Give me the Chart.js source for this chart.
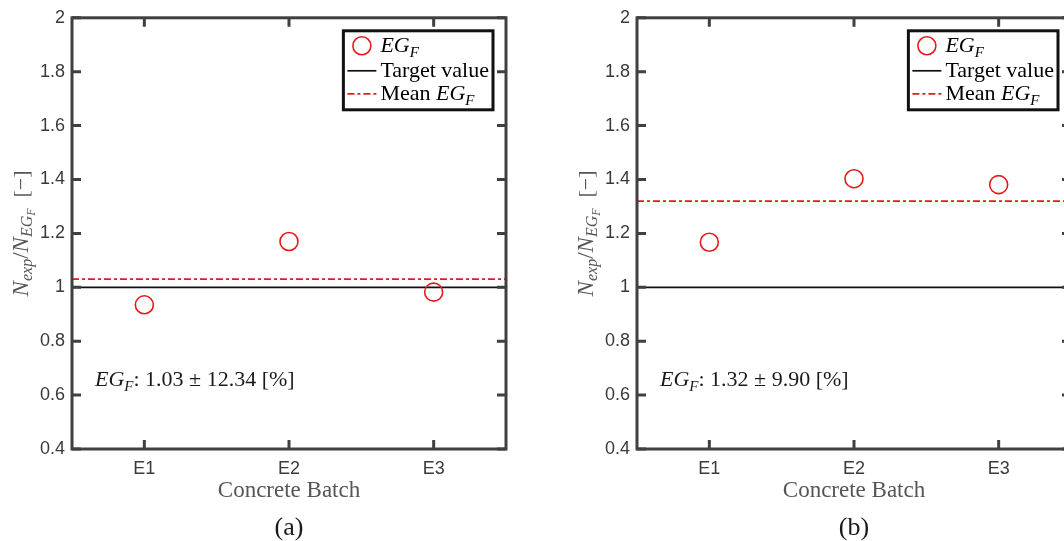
<!DOCTYPE html>
<html><head><meta charset="utf-8">
<script src="https://cdn.jsdelivr.net/npm/chart.js@4/dist/chart.umd.min.js"></script>
<style>
html,body{margin:0;padding:0;background:#fff;overflow:hidden;width:1064px;height:541px;}
#wrap{position:relative;width:1064px;height:541px;overflow:hidden;background:#fff;}
.pane{position:absolute;top:0;width:532px;height:541px;}
#p1{left:0} #p2{left:565px}
</style></head><body>
<div id="wrap">
  <div class="pane" id="p1"><canvas id="c1" width="532" height="541"></canvas></div>
  <div class="pane" id="p2"><canvas id="c2" width="532" height="541"></canvas></div>
</div>
<script>
// ---- data ----
const categories = ['E1', 'E2', 'E3'];
const ratioA = [0.935, 1.17, 0.982];
const ratioB = [1.167, 1.403, 1.381];
const meanRatio = [1.03, 1.32];
const covPct = [12.34, 9.90];
const targetValue = 1;
const yTicks = [0.4, 0.6, 0.8, 1, 1.2, 1.4, 1.6, 1.8, 2];
const panelLabels = ['(a)', '(b)'];
const xMin = 0.5, xMax = 3.5;

// ---- styles ----
const RED = '#e41a1c';
const AXIS = '#404040';
const TICK = '#3a3a3a';
const SANS = '"Liberation Sans", Arial, sans-serif';
const SERIF = '"Liberation Serif", "Times New Roman", serif';
const TL = 9;

function fontOf(s) { return (s.i ? 'italic ' : '') + s.s + 'px ' + SERIF; }
function richWidth(ctx, segs) {
  let w = 0;
  for (const s of segs) { ctx.font = fontOf(s); w += ctx.measureText(s.t).width; }
  return w;
}
function drawRich(ctx, x, y, segs, align) {
  const w = richWidth(ctx, segs);
  let cx = align === 'center' ? x - w / 2 : x;
  ctx.textBaseline = 'alphabetic';
  ctx.textAlign = 'left';
  for (const s of segs) {
    ctx.font = fontOf(s);
    ctx.fillText(s.t, cx, y + (s.dy || 0));
    cx += ctx.measureText(s.t).width;
  }
  return w;
}
const egF = (size) => [{t: 'EG', i: true, s: size}, {t: 'F', i: true, s: Math.round(size * 0.7), dy: 5}];

const framePlugin = {
  id: 'frame',
  afterDraw(chart) {
    const {ctx, chartArea: a, scales: {x, y}} = chart;
    const idx = chart.options.plugins.frame.idx;
    ctx.save();
    // box
    ctx.strokeStyle = AXIS; ctx.lineWidth = 3;
    ctx.strokeRect(a.left, a.top, a.right - a.left, a.bottom - a.top);
    // inward ticks
    ctx.beginPath();
    for (const t of y.ticks) {
      const py = y.getPixelForValue(t.value);
      ctx.moveTo(a.left, py); ctx.lineTo(a.left + TL, py);
      ctx.moveTo(a.right, py); ctx.lineTo(a.right - TL, py);
    }
    for (const t of x.ticks) {
      const px = x.getPixelForValue(t.value);
      ctx.moveTo(px, a.top); ctx.lineTo(px, a.top + TL);
      ctx.moveTo(px, a.bottom); ctx.lineTo(px, a.bottom - TL);
    }
    ctx.stroke();

    // legend
    const ds = chart.data.datasets;
    const LF = 22;
    const rows = [egF(LF), [{t: 'Target value', s: LF}], [{t: 'Mean ', s: LF}].concat(egF(LF))];
    let tw = 0; for (const r of rows) tw = Math.max(tw, richWidth(ctx, r));
    const bw = 4 + 29 + 4 + tw + 4;
    const bx = a.right - 13 - bw, by = a.top + 13, bh = 79;
    ctx.fillStyle = '#fff';
    ctx.fillRect(bx, by, bw, bh);
    ctx.strokeStyle = '#111'; ctx.lineWidth = 3;
    ctx.strokeRect(bx, by, bw, bh);
    const rowY = [by + 15, by + 40, by + 63];
    const sx0 = bx + 4, sx1 = bx + 33;
    // marker
    ctx.beginPath();
    ctx.strokeStyle = ds[0].pointBorderColor; ctx.lineWidth = ds[0].pointBorderWidth;
    ctx.arc((sx0 + sx1) / 2, rowY[0], ds[0].pointRadius, 0, Math.PI * 2);
    ctx.stroke();
    // target line
    ctx.beginPath(); ctx.strokeStyle = ds[1].borderColor; ctx.lineWidth = ds[1].borderWidth;
    ctx.moveTo(sx0, rowY[1]); ctx.lineTo(sx1, rowY[1]); ctx.stroke();
    // mean line
    ctx.beginPath(); ctx.strokeStyle = ds[2].borderColor; ctx.lineWidth = ds[2].borderWidth;
    ctx.setLineDash(ds[2].borderDash);
    ctx.moveTo(sx0, rowY[2]); ctx.lineTo(sx1, rowY[2]); ctx.stroke();
    ctx.setLineDash([]);
    ctx.fillStyle = '#000';
    rows.forEach((r, k) => drawRich(ctx, sx1 + 4, rowY[k] + 6, r, 'left'));

    // annotation
    ctx.fillStyle = '#1a1a1a';
    drawRich(ctx, a.left + 23, 386, egF(22).concat([{t: ': ' + meanRatio[idx].toFixed(2) + ' \u00B1 ' + covPct[idx].toFixed(2) + ' [%]', s: 22}]), 'left');

    // x title
    const cx = (a.left + a.right) / 2;
    ctx.fillStyle = '#555';
    drawRich(ctx, cx, 497, [{t: 'Concrete Batch', s: 23}], 'center');
    // panel label
    ctx.fillStyle = '#1a1a1a';
    drawRich(ctx, cx, 535, [{t: panelLabels[idx], s: 26}], 'center');

    // y title (rotated)
    ctx.save();
    ctx.translate(a.left - 44, (a.top + a.bottom) / 2);
    ctx.rotate(-Math.PI / 2);
    ctx.fillStyle = '#555';
    drawRich(ctx, 0, 0, [
      {t: 'N', i: true, s: 23},
      {t: 'exp', i: true, s: 16, dy: 4},
      {t: '/', s: 23},
      {t: 'N', i: true, s: 23},
      {t: 'EG', i: true, s: 16, dy: 4},
      {t: 'F', i: true, s: 12, dy: 7},
      {t: '  [\u2212]', s: 22}
    ], 'center');
    ctx.restore();
    ctx.restore();
  }
};

function makeChart(id, values, idx) {
  return new Chart(document.getElementById(id), {
    type: 'scatter',
    data: {
      datasets: [
        {label: 'EG_F', data: values.map((v, i) => ({x: i + 1, y: v})), pointStyle: 'circle',
         pointRadius: 9, pointBorderWidth: 1.6, pointBorderColor: RED, pointBackgroundColor: 'rgba(0,0,0,0)',
         borderColor: RED, showLine: false},
        {label: 'Target value', data: [{x: xMin, y: targetValue}, {x: xMax, y: targetValue}], showLine: true,
         borderColor: '#111', borderWidth: 1.7, pointRadius: 0},
        {label: 'Mean EG_F', data: [{x: xMin, y: meanRatio[idx]}, {x: xMax, y: meanRatio[idx]}], showLine: true,
         borderColor: RED, borderWidth: 1.7, borderDash: [7, 3, 3, 3], pointRadius: 0}
      ]
    },
    options: {
      responsive: false, animation: false, events: [],
      layout: {padding: {top: 15, right: 26, left: 0, bottom: 0}},
      plugins: {legend: {display: false}, tooltip: {enabled: false}, frame: {idx: idx}},
      scales: {
        x: {type: 'linear', min: xMin, max: xMax,
            grid: {display: false, drawTicks: false}, border: {display: false},
            afterFit(s) { s.height = 92; },
            afterBuildTicks(s) { s.ticks = categories.map((c, i) => ({value: i + 1})); },
            ticks: {padding: 9, color: TICK, font: {family: SANS, size: 18},
                    callback: (v) => categories[Math.round(v) - 1] ?? ''}},
        y: {type: 'linear', min: yTicks[0], max: yTicks[yTicks.length - 1],
            grid: {display: false, drawTicks: false}, border: {display: false},
            afterFit(s) { s.width = 72; },
            afterBuildTicks(s) { s.ticks = yTicks.map(v => ({value: v})); },
            ticks: {padding: 7, color: TICK, font: {family: SANS, size: 18},
                    callback: (v) => String(+(+v).toFixed(1))}}
      }
    },
    plugins: [framePlugin]
  });
}
makeChart('c1', ratioA, 0);
makeChart('c2', ratioB, 1);
</script>
</body></html>
